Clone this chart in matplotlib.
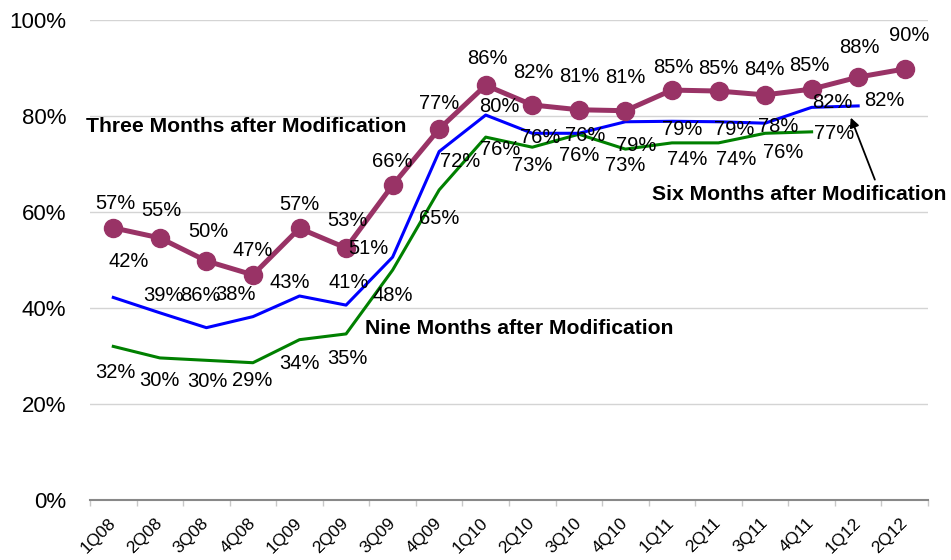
import numpy as np
import matplotlib
matplotlib.use("Agg")
import matplotlib.pyplot as plt
from matplotlib.ticker import FixedLocator, FuncFormatter

plt.rcParams["font.family"] = ["Liberation Sans", "DejaVu Sans"]

quarters = ["1Q08", "2Q08", "3Q08", "4Q08", "1Q09", "2Q09", "3Q09", "4Q09", "1Q10",
            "2Q10", "3Q10", "4Q10", "1Q11", "2Q11", "3Q11", "4Q11", "1Q12", "2Q12"]

three_months = [56.7, 54.6, 49.8, 46.9, 56.6, 52.5, 65.6, 77.3, 86.4, 82.3, 81.3, 81.1,
                85.4, 85.2, 84.4, 85.6, 88.1, 89.8]
six_months = [42.2, 39.0, 35.9, 38.2, 42.5, 40.6, 50.6, 72.6, 80.2, 76.4, 76.4, 78.8,
              78.9, 78.8, 78.5, 81.8, 82.1]
nine_months = [32.0, 29.6, 29.1, 28.6, 33.4, 34.6, 47.9, 64.6, 75.6, 73.5, 76.2, 73.1,
               74.4, 74.4, 76.4, 76.7]

# label text as printed on the chart
three_labels = ["57%", "55%", "50%", "47%", "57%", "53%", "66%", "77%", "86%", "82%", "81%",
                "81%", "85%", "85%", "84%", "85%", "88%", "90%"]
six_labels = ["42%", "39%", "86%", "38%", "43%", "41%", "51%", "72%", "80%", "76%", "76%",
              "79%", "79%", "79%", "78%", "82%", "82%"]
nine_labels = ["32%", "30%", "30%", "29%", "34%", "35%", "48%", "65%", "76%", "73%", "76%",
               "73%", "74%", "74%", "76%", "77%"]

# label offsets in pixels (dx, dy), hand placed like the original
three_off = [(2, 26), (2, 29), (2, 31), (0, 26), (0, 26), (1, 29), (0, 26), (0, 27), (2, 29),
             (1, 34), (0, 35), (0, 35), (1, 25), (0, 25), (-1, 27), (-2, 26), (1, 32), (4, 35)]
six_off = [(15, 38), (4, 19), (-6, 34), (-17, 24), (-10, 15), (3, 25), (-24, 11), (21, -8),
           (14, 11), (8, -2), (6, 0), (11, -22), (10, -6), (16, -6), (13, -1), (21, 7), (26, 7)]
nine_off = [(2, -24), (0, -21), (1, -19), (-1, -16), (0, -22), (1, -23), (0, -23), (0, -27),
            (14, -10), (0, -16), (0, -19), (0, -14), (15, -15), (18, -15), (18, -17), (23, 0)]

PURPLE = "#993366"
BLUE = "#0000FF"
GREEN = "#008000"

fig = plt.figure(figsize=(9.51, 5.60), dpi=100)
ax = fig.add_axes([90 / 951, 60 / 560, 838 / 951, 480 / 560])

x = np.arange(len(quarters))
ax.plot(x[:len(nine_months)], nine_months, color=GREEN, lw=2.2, zorder=2)
ax.plot(x[:len(six_months)], six_months, color=BLUE, lw=2.2, zorder=3)
ax.plot(x, three_months, color=PURPLE, lw=3.6, marker="o", markersize=13, zorder=4)

for vals, labs, offs in [(three_months, three_labels, three_off),
                         (six_months, six_labels, six_off),
                         (nine_months, nine_labels, nine_off)]:
    for i, (v, s) in enumerate(zip(vals, labs)):
        ax.annotate(s, (i, v), xytext=offs[i], textcoords="offset pixels",
                    ha="center", va="center_baseline", fontsize=14.5, color="black", zorder=5)

ax.set_xlim(-0.5, len(quarters) - 0.5)
ax.set_ylim(0, 100)
ax.set_yticks(np.arange(0, 101, 20))
ax.yaxis.set_major_formatter(FuncFormatter(lambda v, _: f"{v:.0f}%"))
ax.tick_params(axis="y", length=0, pad=17, labelsize=16)
ax.grid(axis="y", color="#d4d4d4", lw=1)
ax.set_axisbelow(True)

ax.set_xticks(x)
ax.set_xticklabels(quarters, rotation=45, ha="right", va="center", rotation_mode="anchor",
                   fontsize=12.5)
ax.tick_params(axis="x", length=0, pad=15)
ax.xaxis.set_minor_locator(FixedLocator(np.arange(-0.5, len(quarters), 1)))
ax.tick_params(axis="x", which="minor", length=4, color="#c8c8c8", width=1)

for side in ["left", "right", "top"]:
    ax.spines[side].set_visible(False)
ax.spines["bottom"].set_color("#888888")
ax.spines["bottom"].set_linewidth(1.5)

fig.text(86 / 951, 1 - 126 / 560, "Three Months after Modification", fontsize=15.2,
         fontweight="bold", ha="left", va="center")
fig.text(365 / 951, 1 - 329 / 560, "Nine Months after Modification", fontsize=15.2,
         fontweight="bold", ha="left", va="center")
fig.text(652 / 951, 1 - 194 / 560, "Six Months after Modification", fontsize=15.2,
         fontweight="bold", ha="left", va="center")
ax.annotate("", xy=(15.82, 80.2), xytext=(16.38, 66.2),
            arrowprops=dict(arrowstyle="-|>", color="black", lw=1.3, mutation_scale=14))

fig.savefig("out.png", dpi=100)
